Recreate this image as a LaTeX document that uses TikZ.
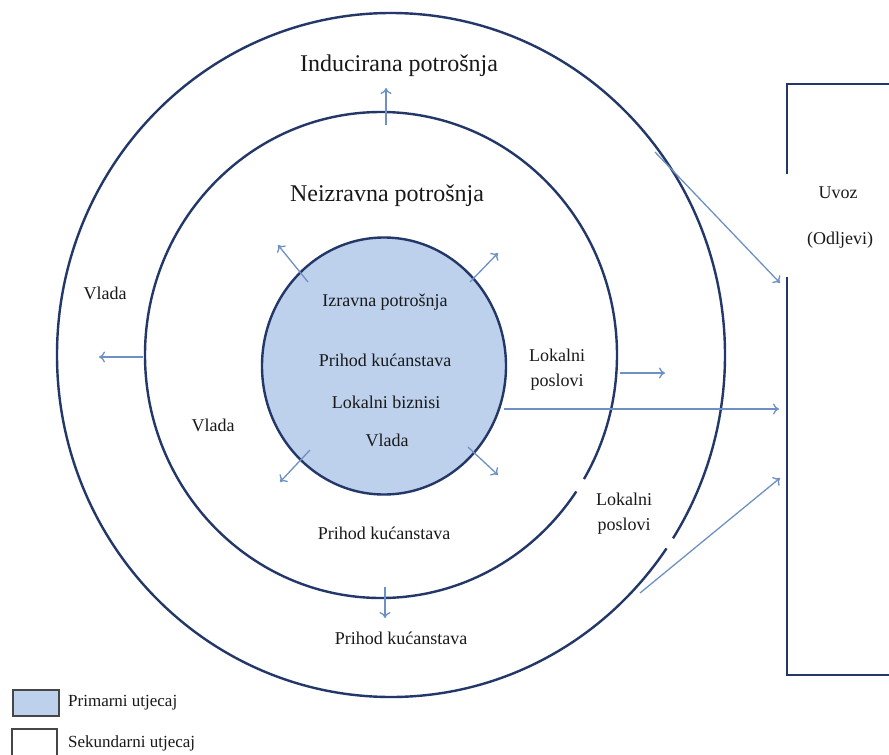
\documentclass[tikz,border=0pt]{standalone}
\usepackage{fontspec}
\setmainfont{Liberation Serif}
\usetikzlibrary{shapes.geometric,arrows.meta}
\definecolor{ringcol}{RGB}{35,55,105}
\definecolor{arrcol}{RGB}{110,145,195}
\definecolor{primfill}{RGB}{189,209,236}
\definecolor{txtcol}{RGB}{25,25,25}
\definecolor{legcol}{RGB}{70,70,70}
\tikzset{
  ring/.style={draw=ringcol, line width=2.4pt, ellipse, inner sep=0pt, outer sep=0pt},
  flow/.style={draw=arrcol, line width=1.3pt, -{To[length=6pt,width=11pt,line width=1.3pt]}},
  bigtxt/.style={text=txtcol, font=\fontsize{24}{28}\selectfont, inner sep=0pt},
  smalltxt/.style={text=txtcol, font=\fontsize{18}{22}\selectfont, inner sep=0pt, align=center},
  legtxt/.style={text=txtcol, font=\fontsize{17}{20}\selectfont, inner sep=0pt, anchor=west},
  gapfix/.style={draw=white, line width=6pt},
  boxline/.style={draw=ringcol, line width=2.8pt}
}
\begin{document}
\begin{tikzpicture}[x=1pt,y=-1pt]
\useasboundingbox (0,0) rectangle (889,755);
\fill[white] (0,0) rectangle (889,755);

% rings
\node[ring, minimum width=668pt, minimum height=684pt] (outer) at (391,355) {};
\node[ring, minimum width=472pt, minimum height=486pt] (middle) at (381,355) {};
\node[ring, fill=primfill, minimum width=244pt, minimum height=257pt] (inner) at (384,366) {};

% gaps in rings
\draw[gapfix] (584.5,479.5) -- (577.5,492);
\draw[gapfix] (673,538.5) -- (667,548.5);

% imports box
\coordinate (bTL) at (787,84);
\coordinate (bTR) at (892,84);
\coordinate (bG1) at (787,173);
\coordinate (bG2) at (787,277);
\coordinate (bBL) at (787,675);
\coordinate (bBR) at (892,675);
\draw[boxline, line cap=rect] (bTR) -- (bTL) -- (bG1);
\draw[boxline] (bG2) -- (bBL) -- (bBR);

% texts
\node[bigtxt] (induc) at (399,66) {Inducirana potrošnja};
\node[bigtxt] (neizr) at (387,196) {Neizravna potrošnja};
\node[smalltxt] (izr) at (385,302) {Izravna potrošnja};
\node[smalltxt] (ph1) at (385,360) {Prihod kućanstava};
\node[smalltxt] (lb) at (386,402) {Lokalni biznisi};
\node[smalltxt] (vl1) at (387,440) {Vlada};
\node[smalltxt] (vl2) at (213,425) {Vlada};
\node[smalltxt] (vl3) at (105,293) {Vlada};
\node[smalltxt] (lp1) at (557,370) {Lokalni\\[3pt]poslovi};
\node[smalltxt] (lp2) at (624,514) {Lokalni\\[3pt]poslovi};
\node[smalltxt] (ph2) at (384,533) {Prihod kućanstava};
\node[smalltxt] (ph3) at (401,638) {Prihod kućanstava};
\node[smalltxt] (uvoz) at (838,193) {Uvoz};
\node[smalltxt] (odlj) at (840,240) {(Odljevi)};

% arrow end points
\coordinate (a1s) at (386,125); \coordinate (a1e) at (386,88);
\coordinate (a2s) at (143,357); \coordinate (a2e) at (99,357);
\coordinate (a3s) at (308,282); \coordinate (a3e) at (278,245);
\coordinate (a4s) at (470,282); \coordinate (a4e) at (498,253);
\coordinate (a5s) at (310,450); \coordinate (a5e) at (280,482);
\coordinate (a6s) at (468,447); \coordinate (a6e) at (498,475);
\coordinate (a7s) at (620,373); \coordinate (a7e) at (665,373);
\coordinate (a8s) at (504,409); \coordinate (a8e) at (779,409);
\coordinate (a9s) at (655,152); \coordinate (a9e) at (780,283);
\coordinate (a10s) at (640,593); \coordinate (a10e) at (780,478);
\coordinate (a11s) at (385,587); \coordinate (a11e) at (385,618);

\draw[flow] (a1s) -- (a1e);
\draw[flow] (a2s) -- (a2e);
\draw[flow] (a3s) -- (a3e);
\draw[flow] (a4s) -- (a4e);
\draw[flow] (a5s) -- (a5e);
\draw[flow] (a6s) -- (a6e);
\draw[flow] (a7s) -- (a7e);
\draw[flow] (a8s) -- (a8e);
\draw[flow] (a9s) -- (a9e);
\draw[flow] (a10s) -- (a10e);
\draw[flow] (a11s) -- (a11e);

% legend
\node[draw=legcol, line width=2pt, fill=primfill, minimum width=46pt, minimum height=26pt, inner sep=0pt] (leg1) at (36,703) {};
\node[draw=legcol, line width=1.4pt, fill=white, minimum width=45pt, minimum height=30pt, inner sep=0pt] (leg2) at (34.5,744) {};
\node[legtxt] (leg1t) at (68,703) {Primarni utjecaj};
\node[legtxt] (leg2t) at (68,743) {Sekundarni utjecaj};
\end{tikzpicture}
\end{document}
